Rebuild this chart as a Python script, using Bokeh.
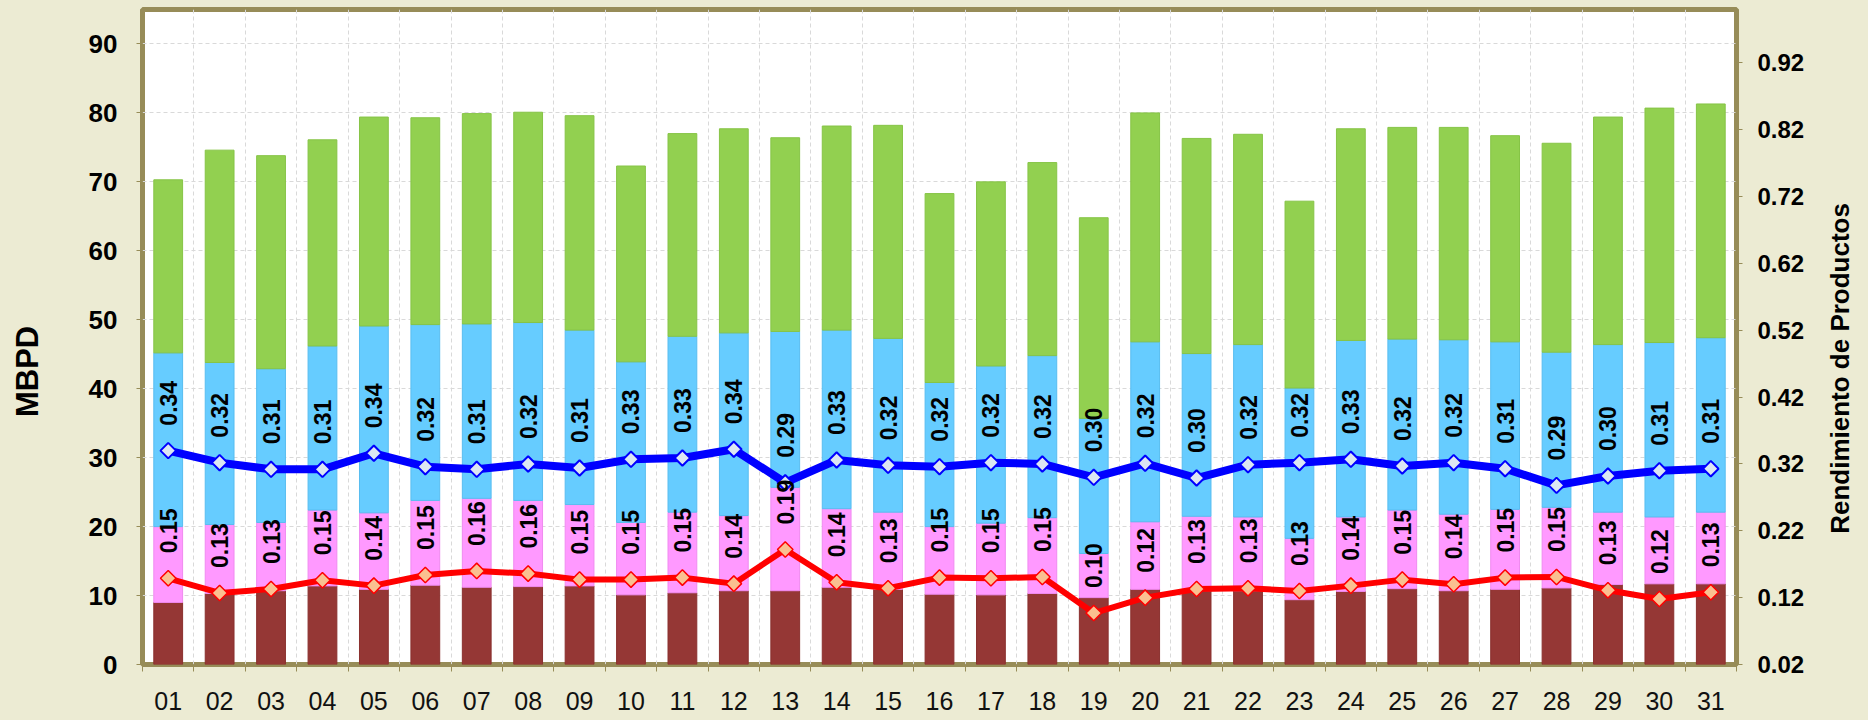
import math
from bokeh.plotting import figure
from bokeh.layouts import row
from bokeh.models import (ColumnDataSource, Range1d, LinearAxis, FixedTicker,
                          LabelSet, Label, NumeralTickFormatter)
from bokeh.core.properties import value
from bokeh.embed import file_html
from bokeh.resources import INLINE

# ---------------- data ----------------
days = ["01", "02", "03", "04", "05", "06", "07", "08", "09", "10",
        "11", "12", "13", "14", "15", "16", "17", "18", "19", "20",
        "21", "22", "23", "24", "25", "26", "27", "28", "29", "30", "31"]

# stacked bar segments (MBPD)
brown = [9.0, 10.3, 10.7, 11.4, 10.9, 11.5, 11.2, 11.3, 11.4, 10.1,
         10.4, 10.7, 10.7, 11.2, 10.9, 10.2, 10.1, 10.3, 9.7, 10.9,
         10.7, 10.7, 9.4, 10.6, 11.0, 10.7, 10.9, 11.1, 11.6, 11.7, 11.7]
pink = [11.0, 10.0, 9.9, 11.0, 11.1, 12.3, 12.9, 12.5, 11.8, 10.5,
        11.7, 10.9, 15.0, 11.4, 11.2, 9.8, 10.4, 11.0, 6.4, 9.8,
        10.8, 10.7, 8.9, 10.8, 11.4, 11.1, 11.6, 11.7, 10.5, 9.7, 10.4]
blue = [25.2, 23.5, 22.3, 23.8, 27.1, 25.5, 25.3, 25.8, 25.3, 23.3,
        25.5, 26.5, 22.6, 25.9, 25.2, 20.9, 22.8, 23.5, 19.6, 26.1,
        23.6, 25.0, 21.8, 25.6, 24.8, 25.3, 24.3, 22.5, 24.3, 25.3, 25.3]
green = [25.1, 30.8, 30.9, 29.9, 30.3, 30.0, 30.5, 30.5, 31.1, 28.4,
         29.4, 29.6, 28.1, 29.6, 30.9, 27.4, 26.7, 28.0, 29.1, 33.2,
         31.2, 30.5, 27.1, 30.7, 30.7, 30.8, 29.9, 30.3, 33.0, 34.0, 33.9]

# yields (right axis)
rend_blue = [0.340, 0.322, 0.312, 0.312, 0.336, 0.316, 0.312, 0.320, 0.314, 0.327,
             0.329, 0.342, 0.292, 0.326, 0.318, 0.316, 0.322, 0.320, 0.300, 0.321,
             0.299, 0.319, 0.322, 0.327, 0.317, 0.322, 0.313, 0.288, 0.302, 0.310, 0.313]
rend_red = [0.149, 0.127, 0.133, 0.146, 0.138, 0.154, 0.160, 0.156, 0.147, 0.147,
            0.150, 0.141, 0.192, 0.143, 0.134, 0.150, 0.149, 0.151, 0.097, 0.120,
            0.133, 0.134, 0.130, 0.138, 0.147, 0.140, 0.150, 0.151, 0.131, 0.118, 0.128]

left_ticks = [0, 10, 20, 30, 40, 50, 60, 70, 80, 90]
right_ticks = [0.02, 0.12, 0.22, 0.32, 0.42, 0.52, 0.62, 0.72, 0.82, 0.92]

left_title = "MBPD"
right_title = "Rendimiento de Productos"

# ---------------- styling ----------------
FONT = "Liberation Sans"
BG = "#ECEBD3"
OLIVE = "#978C58"
GRID = "#D9D9D9"
NBSP = "\u00a0"

xs = list(range(1, len(days) + 1))
bounds = [i + 0.5 for i in range(0, len(days) + 1)]

src = ColumnDataSource(dict(
    x=xs, brown=brown, pink=pink, blue=blue, green=green,
    rb=rend_blue, rr=rend_red,
    tb=[f"{v:.2f}" for v in rend_blue],
    tr=[f"{v:.2f}" for v in rend_red],
))

x_end = len(days) + 0.5
p = figure(width=1818, height=720,
           x_range=Range1d(0.5, x_end), y_range=Range1d(0, 95),
           output_backend="svg", toolbar_location=None,
           min_border_left=142, min_border_right=82,
           min_border_top=9, min_border_bottom=56)
p.extra_y_ranges = {"right": Range1d(0.02, 1.0)}

p.background_fill_color = "white"
p.border_fill_color = BG
p.outline_line_color = OLIVE
p.outline_line_width = 5

# x axis
xt = FixedTicker(ticks=xs, minor_ticks=bounds)
p.xaxis.ticker = xt
p.xaxis.major_label_overrides = {i: d for i, d in zip(xs, days)}
p.xaxis.major_tick_line_color = None
p.xaxis.major_tick_out = 0
p.xaxis.minor_tick_line_color = OLIVE
p.xaxis.minor_tick_out = 7
p.xaxis.minor_tick_in = 0
p.xaxis.axis_line_color = None
p.xaxis.major_label_standoff = 20
p.xaxis.major_label_text_font = FONT
p.xaxis.major_label_text_font_size = "25px"
p.xaxis.major_label_text_color = "#111111"

# left axis
p.yaxis.ticker = FixedTicker(ticks=left_ticks)
p.yaxis.axis_line_color = None
p.yaxis.major_tick_line_color = OLIVE
p.yaxis.major_tick_out = 6
p.yaxis.major_tick_in = 0
p.yaxis.minor_tick_line_color = None
p.yaxis.major_label_standoff = 19
p.yaxis.major_label_text_font = FONT
p.yaxis.major_label_text_font_size = "26px"
p.yaxis.major_label_text_font_style = "bold"
p.yaxis.major_label_text_color = "black"
p.yaxis.axis_label = left_title + NBSP * 8
p.yaxis.axis_label_text_font = FONT
p.yaxis.axis_label_text_font_size = "31px"
p.yaxis.axis_label_text_font_style = "bold"
p.yaxis.axis_label_text_color = "black"
p.yaxis.axis_label_standoff = 41

# right axis
ry = LinearAxis(y_range_name="right", ticker=FixedTicker(ticks=right_ticks),
                formatter=NumeralTickFormatter(format="0.00"))
ry.axis_line_color = None
ry.major_tick_line_color = OLIVE
ry.major_tick_out = 6
ry.major_tick_in = 0
ry.minor_tick_line_color = None
ry.major_label_standoff = 15
ry.major_label_text_font = FONT
ry.major_label_text_font_size = "24px"
ry.major_label_text_font_style = "bold"
ry.major_label_text_color = "black"
p.add_layout(ry, "right")

# grids
p.xgrid.ticker = xt
p.xgrid.grid_line_color = None
p.xgrid.minor_grid_line_color = GRID
p.xgrid.minor_grid_line_dash = "4 3"
p.ygrid.ticker = FixedTicker(ticks=left_ticks)
p.ygrid.grid_line_color = GRID
p.ygrid.grid_line_dash = "4 3"

# stacked bars
p.vbar_stack(["brown", "pink", "blue", "green"], x="x", width=0.56, source=src,
             fill_color=["#953735", "#FF99FF", "#66CCFF", "#92D050"],
             line_color=["#8A302E", "#F08AF0", "#58BDF0", "#86C446"],
             line_width=1)

# lines
p.line("x", "rb", source=src, y_range_name="right", line_color="#0000FF", line_width=8)
p.scatter("x", "rb", source=src, y_range_name="right", marker="square",
          angle=math.pi / 4, size=11, fill_color="#DCE6F2",
          line_color="#0000FF", line_width=2)
p.line("x", "rr", source=src, y_range_name="right", line_color="#FF0000", line_width=6)
p.scatter("x", "rr", source=src, y_range_name="right", marker="square",
          angle=math.pi / 4, size=11, fill_color="#FAC090",
          line_color="#FF0000", line_width=1.5)

# data labels
for ycol, tcol in (("rb", "tb"), ("rr", "tr")):
    p.add_layout(LabelSet(x="x", y=ycol, text=tcol, source=src, y_range_name="right",
                          angle=math.pi / 2, text_align="left", text_baseline="middle",
                          y_offset=25, text_font=value(FONT), text_font_size="23px",
                          text_font_style="bold", text_color="black"))

# narrow strip holding the right-axis title (reads bottom-to-top)
t = figure(width=50, height=720, x_range=Range1d(0, 1), y_range=Range1d(0, 1),
           output_backend="svg", toolbar_location=None,
           x_axis_type=None, y_axis_type=None,
           min_border_left=0, min_border_right=0, min_border_top=0, min_border_bottom=0)
t.background_fill_color = BG
t.border_fill_color = BG
t.outline_line_color = None
t.xgrid.visible = False
t.ygrid.visible = False
t.add_layout(Label(x=0.42, y=0.452, text=right_title, angle=math.pi / 2,
                   text_align="center", text_baseline="middle",
                   text_font=FONT, text_font_size="26px", text_font_style="bold",
                   text_color="black"))

layout = row(p, t, spacing=0)

html = file_html(layout, INLINE)
html = html.replace("<head>", "<head><style>body{background:%s;}</style>" % BG, 1)
open("out.html", "w").write(html)
